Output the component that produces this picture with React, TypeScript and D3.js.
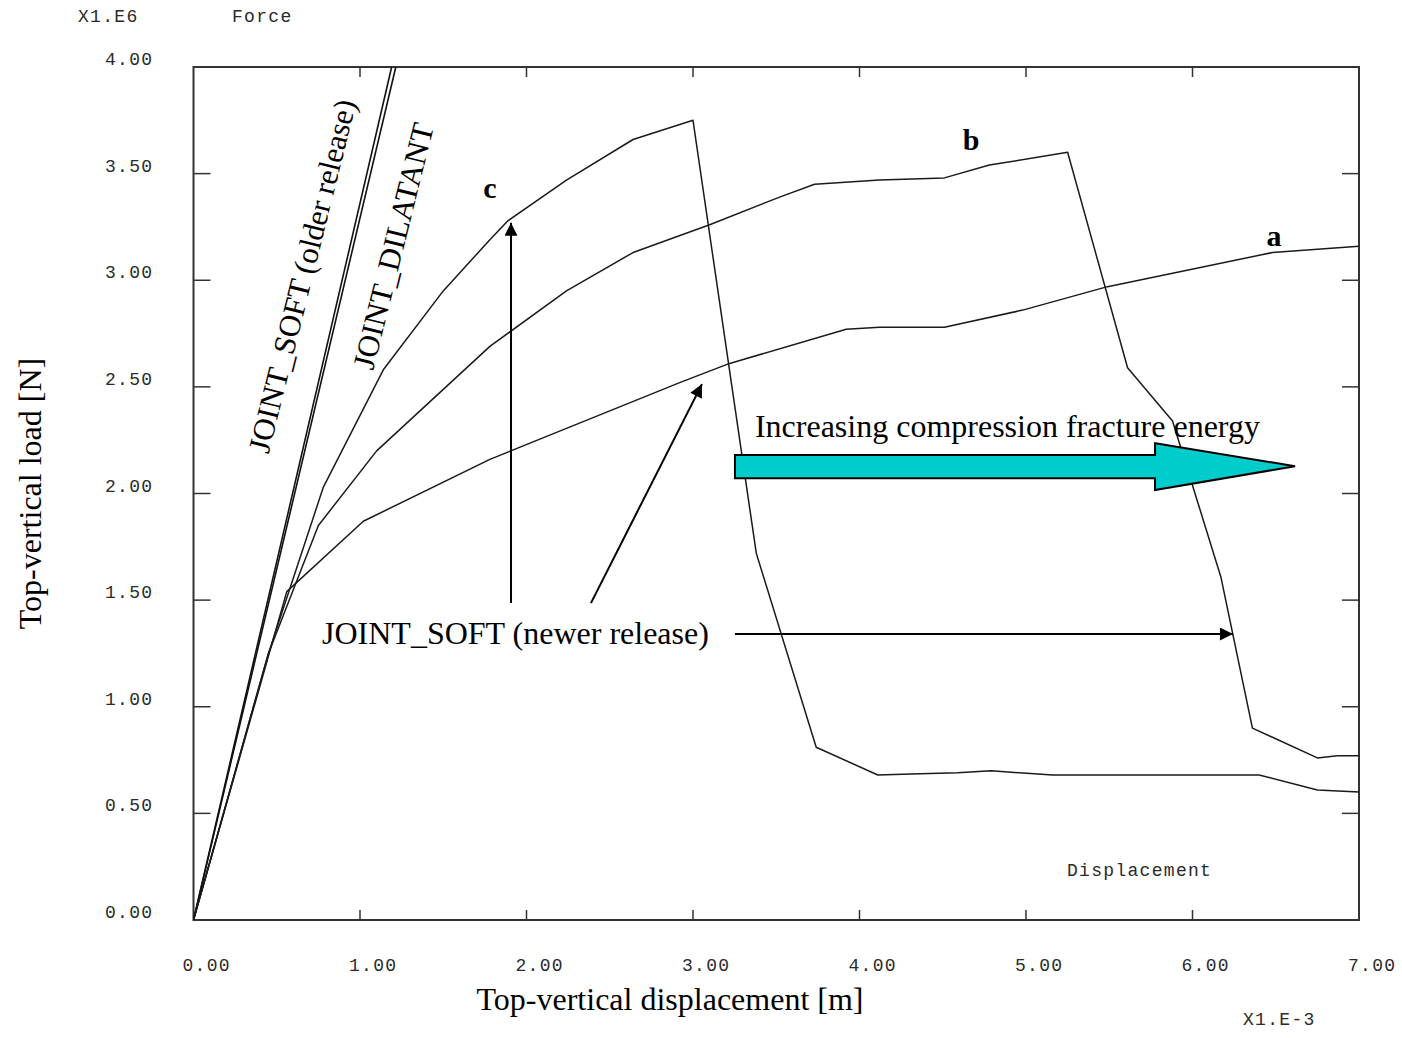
import React, { useEffect, useRef } from "react";
import * as d3 from "d3";

// axis ticks
const xTicks = [0, 1, 2, 3, 4, 5, 6, 7];
const yTicks = [0, 0.5, 1, 1.5, 2, 2.5, 3, 3.5, 4];

// curves (x in 1e-3 m, y in 1e6 N)
const curveA = [[0, 0], [0.56, 1.54], [1.02, 1.87], [1.78, 2.16], [2.92, 2.52], [3.22, 2.61], [3.92, 2.77], [4.12, 2.78], [4.51, 2.78], [4.98, 2.86], [5.49, 2.97], [6.48, 3.13], [7.0, 3.16]];
const curveB = [[0, 0], [0.45, 1.25], [0.75, 1.85], [1.1, 2.2], [1.78, 2.69], [2.24, 2.95], [2.64, 3.13], [3.1, 3.26], [3.52, 3.39], [3.73, 3.45], [4.12, 3.47], [4.51, 3.48], [4.78, 3.54], [5.25, 3.6], [5.61, 2.59], [5.88, 2.34], [6.17, 1.61], [6.36, 0.9], [6.75, 0.76], [6.87, 0.77], [7.0, 0.77]];
const curveC = [[0, 0], [0.45, 1.25], [0.78, 2.03], [1.14, 2.58], [1.5, 2.95], [1.78, 3.19], [1.89, 3.28], [2.24, 3.47], [2.64, 3.66], [3.0, 3.75], [3.38, 1.72], [3.74, 0.81], [4.11, 0.68], [4.31, 0.685], [4.59, 0.69], [4.79, 0.7], [4.96, 0.69], [5.16, 0.68], [5.43, 0.68], [6.4, 0.68], [6.75, 0.61], [7.0, 0.6]];
const jointSoftOld = [[0, 0], [1.19, 4.0]];
const jointDilatant = [[0, 0], [1.215, 4.0]];

// annotations (data units)
const arrowToC = [[1.907, 1.486], [1.907, 3.27]];
const arrowToA = [[2.387, 1.486], [3.054, 2.513]];
const arrowToB = [[3.252, 1.341], [6.243, 1.341]];
const bigArrow = [[3.252, 2.18], [5.775, 2.18], [5.775, 2.236], [6.616, 2.128], [5.775, 2.016], [5.775, 2.072], [3.252, 2.072]];
const curveLabels = [
  { text: "a", x: 6.489, y: 3.16 },
  { text: "b", x: 4.67, y: 3.61 },
  { text: "c", x: 1.781, y: 3.385 },
];

const App = () => {
  const ref = useRef(null);

  useEffect(() => {
    const svg = d3.select(ref.current);
    svg.selectAll("*").remove();

    const x = d3.scaleLinear().domain([0, 7]).range([193.5, 1359]);
    const y = d3.scaleLinear().domain([0, 4]).range([920, 67]);
    const mono = "'Liberation Mono', 'Courier New', monospace";
    const serif = "'Liberation Serif', 'Times New Roman', serif";

    const defs = svg.append("defs");
    defs.append("clipPath").attr("id", "plot-clip")
      .append("rect")
      .attr("x", x(0)).attr("y", y(4))
      .attr("width", x(7) - x(0)).attr("height", y(0) - y(4));
    defs.append("marker")
      .attr("id", "head")
      .attr("viewBox", "0 0 10 10")
      .attr("refX", 10).attr("refY", 5)
      .attr("markerWidth", 15).attr("markerHeight", 13)
      .attr("markerUnits", "userSpaceOnUse")
      .attr("orient", "auto")
      .append("path").attr("d", "M0,0 L10,5 L0,10 Z").attr("fill", "#000");

    // frame
    svg.append("rect")
      .attr("x", x(0)).attr("y", y(4))
      .attr("width", x(7) - x(0)).attr("height", y(0) - y(4))
      .attr("fill", "none").attr("stroke", "#333").attr("stroke-width", 2);

    // ticks, inward on all four sides
    const g = svg.append("g").attr("stroke", "#333").attr("stroke-width", 1.5);
    xTicks.slice(1, -1).forEach(t => {
      g.append("line").attr("x1", x(t)).attr("x2", x(t)).attr("y1", y(0)).attr("y2", y(0) - 10);
      g.append("line").attr("x1", x(t)).attr("x2", x(t)).attr("y1", y(4)).attr("y2", y(4) + 10);
    });
    yTicks.slice(1, -1).forEach(t => {
      g.append("line").attr("x1", x(0)).attr("x2", x(0) + 17).attr("y1", y(t)).attr("y2", y(t));
      g.append("line").attr("x1", x(7)).attr("x2", x(7) - 17).attr("y1", y(t)).attr("y2", y(t));
    });

    const monoText = (s, px, py) =>
      svg.append("text")
        .attr("x", px).attr("y", py)
        .attr("font-family", mono).attr("font-size", 18)
        .attr("letter-spacing", 1.3)
        .attr("fill", "#2a2a2a")
        .attr("dominant-baseline", "central")
        .text(s);

    xTicks.forEach(t => monoText(t.toFixed(2), x(t) - 11, 966));
    yTicks.forEach(t => monoText(t.toFixed(2), 105, y(t) - 7));
    monoText("X1.E6", 78, 17);
    monoText("Force", 232, 17);
    monoText("Displacement", 1067, 871);
    monoText("X1.E-3", 1243, 1020);

    // curves
    const line = d3.line().x(d => x(d[0])).y(d => y(d[1]));
    const curves = svg.append("g").attr("clip-path", "url(#plot-clip)");
    [jointSoftOld, jointDilatant].forEach(c =>
      curves.append("path").attr("d", line(c))
        .attr("fill", "none").attr("stroke", "#111").attr("stroke-width", 1.6));
    [curveA, curveB, curveC].forEach(c =>
      curves.append("path").attr("d", line(c))
        .attr("fill", "none").attr("stroke", "#1a1a1a").attr("stroke-width", 1.5)
        .attr("stroke-linejoin", "round"));

    // arrows
    [arrowToC, arrowToA, arrowToB].forEach(a =>
      svg.append("path").attr("d", line(a))
        .attr("stroke", "#000").attr("stroke-width", 2)
        .attr("fill", "none").attr("marker-end", "url(#head)"));

    svg.append("path")
      .attr("d", line(bigArrow) + "Z")
      .attr("fill", "#00CCCC").attr("stroke", "#000").attr("stroke-width", 2)
      .attr("stroke-linejoin", "miter");

    // annotation text
    svg.append("text")
      .attr("x", x(3.372)).attr("y", y(2.264))
      .attr("font-family", serif).attr("font-size", 32)
      .text("Increasing compression fracture energy");

    svg.append("text")
      .attr("x", x(0.772)).attr("y", y(1.294))
      .attr("font-family", serif).attr("font-size", 32)
      .text("JOINT_SOFT (newer release)");

    svg.append("text")
      .attr("transform", `translate(${x(0.653)},${y(3.02)}) rotate(-76)`)
      .attr("text-anchor", "middle").attr("dominant-baseline", "central")
      .attr("font-family", serif).attr("font-size", 31)
      .text("JOINT_SOFT (older release)");

    svg.append("text")
      .attr("transform", `translate(${x(1.2)},${y(3.16)}) rotate(-76)`)
      .attr("text-anchor", "middle").attr("dominant-baseline", "central")
      .attr("font-family", serif).attr("font-size", 31)
      .text("JOINT_DILATANT");

    curveLabels.forEach(l =>
      svg.append("text")
        .attr("x", x(l.x)).attr("y", y(l.y))
        .attr("text-anchor", "middle")
        .attr("font-family", serif).attr("font-size", 30).attr("font-weight", "bold")
        .text(l.text));

    // axis titles
    svg.append("text")
      .attr("x", 670).attr("y", 1010)
      .attr("text-anchor", "middle")
      .attr("font-family", serif).attr("font-size", 32)
      .text("Top-vertical displacement [m]");

    svg.append("text")
      .attr("transform", `translate(30, ${y(2.0)}) rotate(-90)`)
      .attr("text-anchor", "middle").attr("dominant-baseline", "central")
      .attr("font-family", serif).attr("font-size", 32)
      .text("Top-vertical load [N]");
  }, []);

  return (
    <svg ref={ref} width={1402} height={1038}
      style={{ position: "absolute", left: 0, top: 0, background: "#fff" }} />
  );
};

export default App;
